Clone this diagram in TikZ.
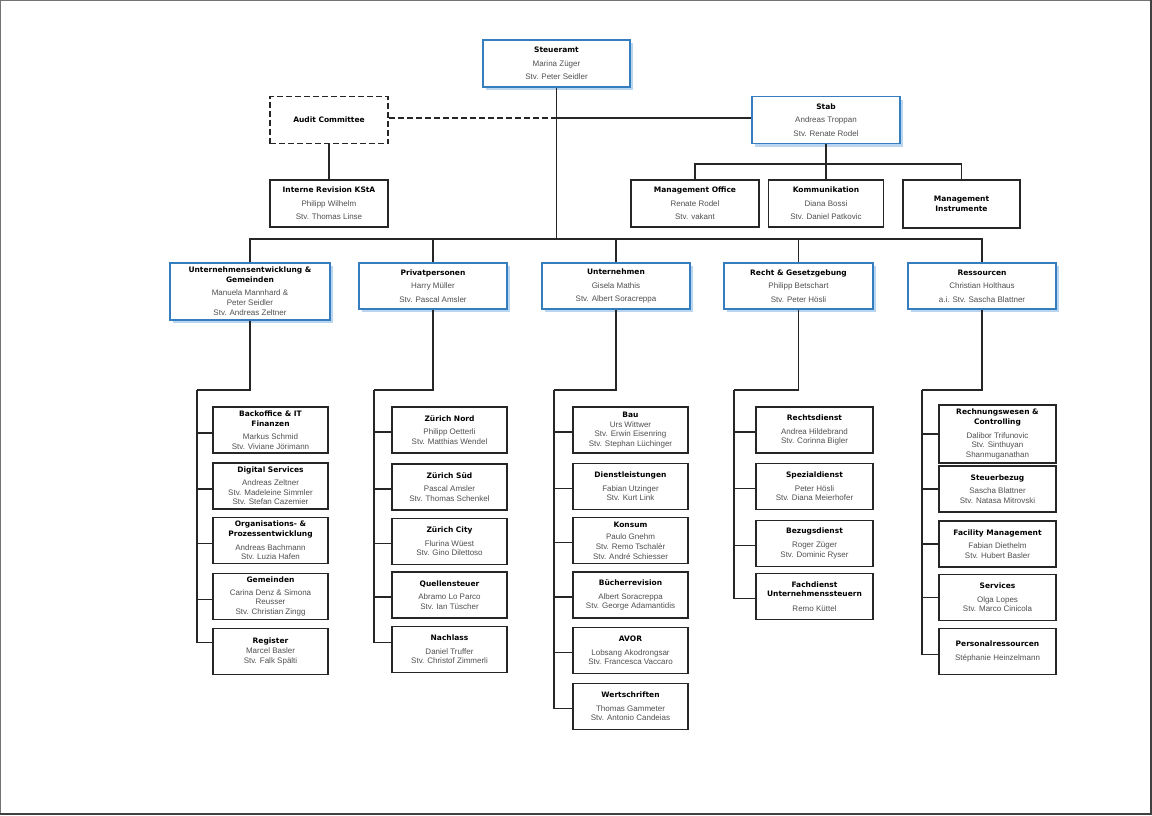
\documentclass[tikz,border=0pt]{standalone}
\usepackage{fontspec}
\setmainfont{Liberation Sans}
\newfontfamily\titlefont{DejaVu Sans}
\usetikzlibrary{shadows}
\definecolor{bluebox}{RGB}{52,125,190}
\definecolor{shadowblue}{RGB}{140,185,230}
\definecolor{namegray}{RGB}{80,80,80}
\newcommand\ttl[1]{{\color{black}\titlefont\bfseries\fontsize{7.5}{9}\selectfont #1}}
\begin{document}
\begin{tikzpicture}[x=1pt,y=-1pt,
  box/.style={draw=black!85, line width=1.7pt, fill=white, inner sep=1pt, align=center, text=namegray},
  topbox/.style={box, font=\fontsize{8}{13.5}\selectfont},
  bbox/.style={topbox, draw=bluebox, drop shadow={shadow xshift=3pt, shadow yshift=-3pt, fill=shadowblue, opacity=0.6}},
  subbox/.style={box, minimum width=115pt, minimum height=46pt, font=\fontsize{8}{9.6}\selectfont},
  conn/.style={line width=1.8pt, black!85}]
\useasboundingbox (0,0) rectangle (1152,815);
\fill[white] (0,0) rectangle (1152,815);
\draw[black!55, line width=1pt] (0.5,814) -- (0.5,0.5) -- (1150,0.5);
\draw[black!75, line width=2pt] (1151,0) -- (1151,814) -- (0,814);

% ---------- top level ----------
\node[bbox, minimum width=147pt, minimum height=47pt] (steuer) at (556.5,63.5) {\ttl{Steueramt}\\Marina Züger\\Stv. Peter Seidler};
\node[topbox, dash pattern=on 6pt off 3pt, minimum width=118pt, minimum height=47pt] (audit) at (329,120) {\ttl{Audit Committee}};
\node[bbox, minimum width=148pt, minimum height=47pt] (stab) at (826,120) {\ttl{Stab}\\Andreas Troppan\\Stv. Renate Rodel};
\node[topbox, minimum width=118pt, minimum height=47pt] (irev) at (329,203.5) {\ttl{Interne Revision KStA}\\Philipp Wilhelm\\Stv. Thomas Linse};
\node[topbox, minimum width=128pt, minimum height=47pt] (mo) at (695,203.5) {\ttl{Management Office}\\Renate Rodel\\Stv. vakant};
\node[topbox, minimum width=115pt, minimum height=47pt] (komm) at (826,203.5) {\ttl{Kommunikation}\\Diana Bossi\\Stv. Daniel Patkovic};
\node[topbox, font=\fontsize{8}{10}\selectfont, minimum width=117pt, minimum height=48pt] (mi) at (961.5,204) {\ttl{Management}\\\ttl{Instrumente}};

% ---------- departments ----------
\node[bbox, font=\fontsize{8}{10}\selectfont, minimum width=160pt, minimum height=57pt] (ue) at (250,291.5) {\ttl{Unternehmensentwicklung \&}\\\ttl{Gemeinden}\\[3pt]Manuela Mannhard \&\\Peter Seidler\\Stv. Andreas Zeltner};
\node[bbox, minimum width=148pt, minimum height=46pt] (pp) at (433,286) {\ttl{Privatpersonen}\\Harry Müller\\Stv. Pascal Amsler};
\node[bbox, minimum width=148pt, minimum height=46pt] (un) at (616,286) {\ttl{Unternehmen}\\Gisela Mathis\\Stv. Albert Soracreppa};
\node[bbox, minimum width=149pt, minimum height=46pt] (rg) at (798.5,286) {\ttl{Recht \& Gesetzgebung}\\Philipp Betschart\\Stv. Peter Hösli};
\node[bbox, minimum width=148pt, minimum height=46pt] (rs) at (982,286) {\ttl{Ressourcen}\\Christian Holthaus\\a.i. Stv. Sascha Blattner};

% ---------- column 1 ----------
\node[subbox] (bo) at (270.5,430) {\ttl{Backoffice \& IT}\\\ttl{Finanzen}\\[4pt]Markus Schmid\\Stv. Viviane Jörimann};
\node[subbox] (ds) at (270.5,486) {\ttl{Digital Services}\\[3pt]Andreas Zeltner\\Stv. Madeleine Simmler\\Stv. Stefan Cazemier};
\node[subbox] (oe) at (270.5,540.5) {\ttl{Organisations- \&}\\\ttl{Prozessentwicklung}\\[4pt]Andreas Bachmann\\Stv. Luzia Hafen};
\node[subbox] (ge) at (270.5,596.5) {\ttl{Gemeinden}\\[3pt]Carina Denz \& Simona\\Reusser\\Stv. Christian Zingg};
\node[subbox] (reg) at (270.5,651.5) {\ttl{Register}\\Marcel Basler\\Stv. Falk Spälti};

% ---------- column 2 ----------
\node[subbox] (zn) at (449.5,430) {\ttl{Zürich Nord}\\[4pt]Philipp Oetterli\\Stv. Matthias Wendel};
\node[subbox] (zs) at (449.5,487) {\ttl{Zürich Süd}\\[4pt]Pascal Amsler\\Stv. Thomas Schenkel};
\node[subbox] (zc) at (449.5,541.5) {\ttl{Zürich City}\\[4pt]Flurina Wüest\\Stv. Gino Dilettoso};
\node[subbox] (qs) at (449.5,595) {\ttl{Quellensteuer}\\[4pt]Abramo Lo Parco\\Stv. Ian Tüscher};
\node[subbox] (na) at (449.5,649.5) {\ttl{Nachlass}\\[4pt]Daniel Truffer\\Stv. Christof Zimmerli};

% ---------- column 3 ----------
\node[subbox] (bau) at (630.5,430) {\ttl{Bau}\\Urs Wittwer\\Stv. Erwin Eisenring\\Stv. Stephan Lüchinger};
\node[subbox] (dl) at (630.5,486.5) {\ttl{Dienstleistungen}\\[4pt]Fabian Utzinger\\Stv. Kurt Link};
\node[subbox] (ko) at (630.5,540.5) {\ttl{Konsum}\\[3pt]Paulo Gnehm\\Stv. Remo Tschalèr\\Stv. André Schiesser};
\node[subbox] (br) at (630.5,595) {\ttl{Bücherrevision}\\[4pt]Albert Soracreppa\\Stv. George Adamantidis};
\node[subbox] (avor) at (630.5,650.5) {\ttl{AVOR}\\[4pt]Lobsang Akodrongsar\\Stv. Francesca Vaccaro};
\node[subbox] (ws) at (630.5,706.5) {\ttl{Wertschriften}\\[4pt]Thomas Gammeter\\Stv. Antonio Candeias};

% ---------- column 4 ----------
\node[subbox, minimum width=117pt] (rd) at (814.5,430) {\ttl{Rechtsdienst}\\[4pt]Andrea Hildebrand\\Stv. Corinna Bigler};
\node[subbox, minimum width=117pt] (sd) at (814.5,486.5) {\ttl{Spezialdienst}\\[4pt]Peter Hösli\\Stv. Diana Meierhofer};
\node[subbox, minimum width=117pt] (bd) at (814.5,543.5) {\ttl{Bezugsdienst}\\[4pt]Roger Züger\\Stv. Dominic Ryser};
\node[subbox, minimum width=117pt] (fd) at (814.5,596.5) {\ttl{Fachdienst}\\\ttl{Unternehmenssteuern}\\[5pt]Remo Küttel};

% ---------- column 5 ----------
\node[subbox, minimum width=117pt, minimum height=58pt] (rw) at (997.5,434) {\ttl{Rechnungswesen \&}\\\ttl{Controlling}\\[4pt]Dalibor Trifunovic\\Stv. Sinthuyan\\Shanmuganathan};
\node[subbox, minimum width=117pt] (sb) at (997.5,489) {\ttl{Steuerbezug}\\[4pt]Sascha Blattner\\Stv. Natasa Mitrovski};
\node[subbox, minimum width=117pt] (fm) at (997.5,544) {\ttl{Facility Management}\\[4pt]Fabian Diethelm\\Stv. Hubert Basler};
\node[subbox, minimum width=117pt] (sv) at (997.5,597.5) {\ttl{Services}\\[4pt]Olga Lopes\\Stv. Marco Cinicola};
\node[subbox, minimum width=117pt] (pr) at (997.5,651.5) {\ttl{Personalressourcen}\\[4pt]Stéphanie Heinzelmann};

% ---------- connectors: top ----------
\coordinate (tr) at (556.5,239);
\coordinate (ax) at (556.5,118);
\coordinate (sh) at (826,164);
\draw[conn] (steuer.south) -- (tr);
\draw[conn, line width=1.5pt, dash pattern=on 6pt off 3pt] (audit.east |- ax) -- (ax);
\draw[conn] (ax) -- (stab.west |- ax);
\draw[conn] (audit.south) -- (irev.north);
\draw[conn] (stab.south) -- (komm.north);
\draw[conn] (mo.north) |- (sh) -| (mi.north);
\draw[conn] (ue.north) |- (tr) -| (rs.north);
\draw[conn] (pp.north) -- (pp.north |- tr);
\draw[conn] (un.north) -- (un.north |- tr);
\draw[conn] (rg.north) -- (rg.north |- tr);

% ---------- connectors: columns ----------
\coordinate (k1) at (197,390);
\coordinate (k2) at (374,390);
\coordinate (k3) at (554,390);
\coordinate (k4) at (734,390);
\coordinate (k5) at (922,390);
\draw[conn] (ue.south) |- (k1);
\draw[conn] (pp.south) |- (k2);
\draw[conn] (un.south) |- (k3);
\draw[conn] (rg.south) |- (k4);
\draw[conn] (rs.south) |- (k5);

\foreach \n in {bo,ds,oe,ge} \draw[conn] (k1) |- ([yshift=-3pt]\n.west);
\draw[conn] (k1) |- ([yshift=9pt]reg.west);
\foreach \n in {zn,zs,zc,qs} \draw[conn] (k2) |- ([yshift=-2pt]\n.west);
\draw[conn] (k2) |- ([yshift=7pt]na.west);
\foreach \n in {bau,dl,ko,br,avor,ws} \draw[conn] (k3) |- ([yshift=-2pt]\n.west);
\foreach \n in {rd,sd,bd,fd} \draw[conn] (k4) |- ([yshift=-2pt]\n.west);
\foreach \n in {rw,sb,fm,sv} \draw[conn] (k5) |- (\n.west);
\draw[conn] (k5) |- ([yshift=-3pt]pr.west);
\end{tikzpicture}
\end{document}
